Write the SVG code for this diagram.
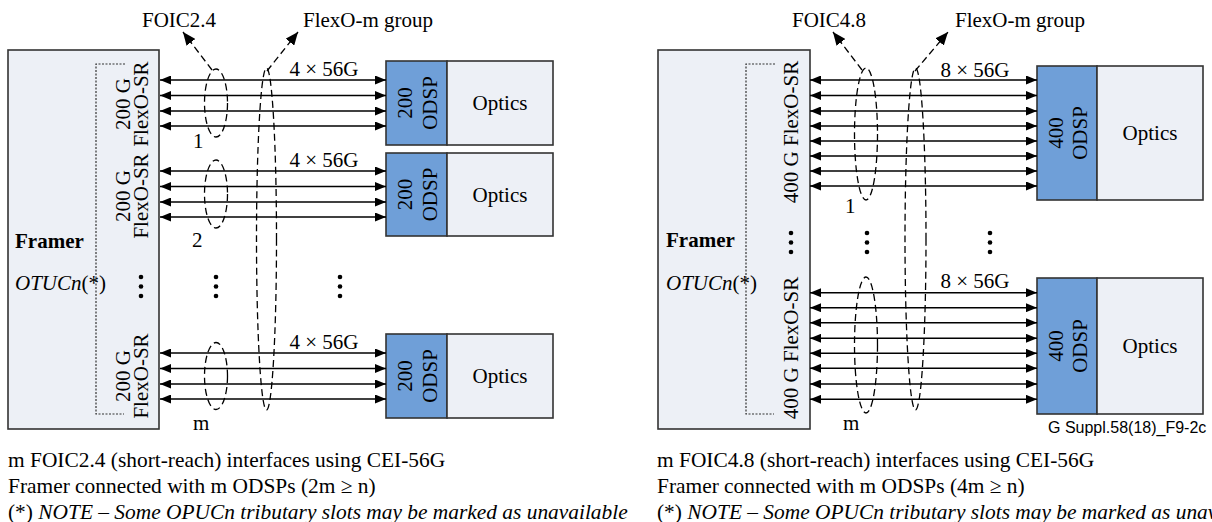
<svg xmlns="http://www.w3.org/2000/svg" width="1212" height="522" viewBox="0 0 1212 522">
<style>
text{font-family:"Liberation Serif","Times New Roman",serif;font-size:21px;fill:#000}
.box{fill:#edf0f6;stroke:#333;stroke-width:1.6}
.odsp{fill:#6f9fd8;stroke:#333;stroke-width:1.6}
.bracket{fill:none;stroke:#333;stroke-width:1.2;stroke-dasharray:2 1.5}
.ln{stroke:#000;stroke-width:1.5;marker-start:url(#ah);marker-end:url(#ah)}
.dash{fill:none;stroke:#000;stroke-width:1.3;stroke-dasharray:7 4}
.darr{fill:none;stroke:#000;stroke-width:1.3;stroke-dasharray:7 4;marker-end:url(#dh)}
.mid{text-anchor:middle}
.b{font-weight:bold}
.i{font-style:italic}
.cap{font-size:21.4px}
.sans{font-family:"Liberation Sans",Arial,sans-serif;font-size:16px}
</style>
<defs>
<marker id="ah" viewBox="0 0 11 9" refX="11" refY="4.5" markerWidth="11" markerHeight="9" markerUnits="userSpaceOnUse" orient="auto-start-reverse"><path d="M0,0 L11,4.5 L0,9 z" fill="#000"/></marker>
<marker id="dh" viewBox="0 0 13 11" refX="13" refY="5.5" markerWidth="13" markerHeight="11" markerUnits="userSpaceOnUse" orient="auto"><path d="M0,0 L13,5.5 L0,11 z" fill="#000"/></marker>
<g id="dot"><circle cx="0" cy="0" r="2.3" fill="#000"/><circle cx="0" cy="9.5" r="2.3" fill="#000"/><circle cx="0" cy="19" r="2.3" fill="#000"/></g>
</defs>

<!-- LEFT DIAGRAM -->
<g id="framer-left">
<rect class="box" x="8" y="50" width="151" height="379"/>
<path class="bracket" d="M125,64 H96 V414 H124"/>
<text class="b" x="15" y="248">Framer</text>
<text x="15" y="290"><tspan class="i">OTUCn</tspan>(*)</text>
<use href="#dot" x="141" y="277"/>
<text class="mid" transform="translate(130,104) rotate(-90)">200 G</text>
<text class="mid" transform="translate(148,104) rotate(-90)">FlexO-SR</text>
<text class="mid" transform="translate(130,196) rotate(-90)">200 G</text>
<text class="mid" transform="translate(148,196) rotate(-90)">FlexO-SR</text>
<text class="mid" transform="translate(130,376) rotate(-90)">200 G</text>
<text class="mid" transform="translate(148,376) rotate(-90)">FlexO-SR</text>
</g>

<g id="odsp-l1">
<rect class="odsp" x="386" y="61" width="61" height="84"/>
<rect class="box" x="447" y="61" width="106" height="84"/>
<text class="mid" transform="translate(412,103) rotate(-90)">200</text>
<text class="mid" transform="translate(437,103) rotate(-90)">ODSP</text>
<text class="mid" x="500" y="110">Optics</text>
</g>
<g id="odsp-l2">
<rect class="odsp" x="386" y="153" width="61" height="83"/>
<rect class="box" x="447" y="153" width="106" height="83"/>
<text class="mid" transform="translate(412,194.5) rotate(-90)">200</text>
<text class="mid" transform="translate(437,194.5) rotate(-90)">ODSP</text>
<text class="mid" x="500" y="201.5">Optics</text>
</g>
<g id="odsp-lm">
<rect class="odsp" x="386" y="334" width="61" height="84"/>
<rect class="box" x="447" y="334" width="106" height="84"/>
<text class="mid" transform="translate(412,376) rotate(-90)">200</text>
<text class="mid" transform="translate(437,376) rotate(-90)">ODSP</text>
<text class="mid" x="500" y="383">Optics</text>
</g>

<g id="connectors-left">
<line class="ln" x1="160" y1="80" x2="386" y2="80"/>
<line class="ln" x1="160" y1="95.5" x2="386" y2="95.5"/>
<line class="ln" x1="160" y1="111" x2="386" y2="111"/>
<line class="ln" x1="160" y1="126" x2="386" y2="126"/>
<line class="ln" x1="160" y1="171" x2="386" y2="171"/>
<line class="ln" x1="160" y1="186.5" x2="386" y2="186.5"/>
<line class="ln" x1="160" y1="202" x2="386" y2="202"/>
<line class="ln" x1="160" y1="217" x2="386" y2="217"/>
<line class="ln" x1="160" y1="353" x2="386" y2="353"/>
<line class="ln" x1="160" y1="368.5" x2="386" y2="368.5"/>
<line class="ln" x1="160" y1="384" x2="386" y2="384"/>
<line class="ln" x1="160" y1="399" x2="386" y2="399"/>
<ellipse class="dash" cx="216" cy="103" rx="11.5" ry="34"/>
<ellipse class="dash" cx="216" cy="194" rx="11.5" ry="34"/>
<ellipse class="dash" cx="216" cy="376" rx="11.5" ry="33.5"/>
<ellipse class="dash" cx="266.5" cy="239" rx="10" ry="171"/>
<path class="darr" d="M212,70 L183,32"/>
<path class="darr" d="M267,71 L298,32"/>
</g>
<g id="labels-left">
<text x="142" y="27">FOIC2.4</text>
<text x="303" y="27">FlexO-m group</text>
<text class="mid" x="324" y="76">4 × 56G</text>
<text class="mid" x="324" y="167">4 × 56G</text>
<text class="mid" x="324" y="349">4 × 56G</text>
<text x="193" y="148">1</text>
<text x="192" y="247">2</text>
<text x="193" y="430">m</text>
<use href="#dot" x="216" y="277"/>
<use href="#dot" x="340" y="277"/>
</g>

<!-- RIGHT DIAGRAM -->
<g id="framer-right">
<rect class="box" x="658" y="50" width="152" height="379"/>
<path class="bracket" d="M775,64 H746 V414 H774"/>
<text class="b" x="666" y="247">Framer</text>
<text x="666" y="290"><tspan class="i">OTUCn</tspan>(*)</text>
<use href="#dot" x="791" y="233"/>
<text class="mid" transform="translate(798,132) rotate(-90)">400 G FlexO-SR</text>
<text class="mid" transform="translate(798,348) rotate(-90)">400 G FlexO-SR</text>
</g>

<g id="odsp-r1">
<rect class="odsp" x="1037" y="66" width="60" height="134"/>
<rect class="box" x="1097" y="66" width="106" height="134"/>
<text class="mid" transform="translate(1063,133) rotate(-90)">400</text>
<text class="mid" transform="translate(1087,133) rotate(-90)">ODSP</text>
<text class="mid" x="1150" y="140">Optics</text>
</g>
<g id="odsp-rm">
<rect class="odsp" x="1037" y="278" width="60" height="136"/>
<rect class="box" x="1097" y="278" width="106" height="136"/>
<text class="mid" transform="translate(1063,346) rotate(-90)">400</text>
<text class="mid" transform="translate(1087,346) rotate(-90)">ODSP</text>
<text class="mid" x="1150" y="353">Optics</text>
</g>

<g id="connectors-right">
<line class="ln" x1="810" y1="80" x2="1037" y2="80"/>
<line class="ln" x1="810" y1="95.5" x2="1037" y2="95.5"/>
<line class="ln" x1="810" y1="111" x2="1037" y2="111"/>
<line class="ln" x1="810" y1="126" x2="1037" y2="126"/>
<line class="ln" x1="810" y1="141" x2="1037" y2="141"/>
<line class="ln" x1="810" y1="156" x2="1037" y2="156"/>
<line class="ln" x1="810" y1="171" x2="1037" y2="171"/>
<line class="ln" x1="810" y1="186" x2="1037" y2="186"/>
<line class="ln" x1="810" y1="292.7" x2="1037" y2="292.7"/>
<line class="ln" x1="810" y1="307.7" x2="1037" y2="307.7"/>
<line class="ln" x1="810" y1="322.7" x2="1037" y2="322.7"/>
<line class="ln" x1="810" y1="338.3" x2="1037" y2="338.3"/>
<line class="ln" x1="810" y1="353.3" x2="1037" y2="353.3"/>
<line class="ln" x1="810" y1="368.3" x2="1037" y2="368.3"/>
<line class="ln" x1="810" y1="384" x2="1037" y2="384"/>
<line class="ln" x1="810" y1="399.3" x2="1037" y2="399.3"/>
<ellipse class="dash" cx="866" cy="134" rx="11.5" ry="66"/>
<ellipse class="dash" cx="866" cy="345" rx="11.5" ry="68"/>
<ellipse class="dash" cx="915.5" cy="239" rx="10.5" ry="171"/>
<path class="darr" d="M862,70 L833,32"/>
<path class="darr" d="M915,71 L948,32"/>
</g>
<g id="labels-right">
<text x="792" y="27">FOIC4.8</text>
<text x="955" y="27">FlexO-m group</text>
<text class="mid" x="975" y="77">8 × 56G</text>
<text class="mid" x="975" y="288">8 × 56G</text>
<text x="845" y="213">1</text>
<text x="843" y="430">m</text>
<use href="#dot" x="867" y="233"/>
<use href="#dot" x="990" y="233"/>
<text class="sans" x="1048" y="433">G Suppl.58(18)_F9-2c</text>
</g>

<!-- CAPTIONS -->
<g id="captions">
<text class="cap" x="8" y="467">m FOIC2.4 (short-reach) interfaces using CEI-56G</text>
<text class="cap" x="8" y="493">Framer connected with m ODSPs (2m ≥ n)</text>
<text class="cap" x="8" y="519">(*) <tspan class="i">NOTE – Some OPUCn tributary slots may be marked as unavailable</tspan></text>
<text class="cap" x="657" y="467">m FOIC4.8 (short-reach) interfaces using CEI-56G</text>
<text class="cap" x="657" y="493">Framer connected with m ODSPs (4m ≥ n)</text>
<text class="cap" x="657" y="519">(*) <tspan class="i">NOTE – Some OPUCn tributary slots may be marked as unavailable</tspan></text>
</g>
</svg>
